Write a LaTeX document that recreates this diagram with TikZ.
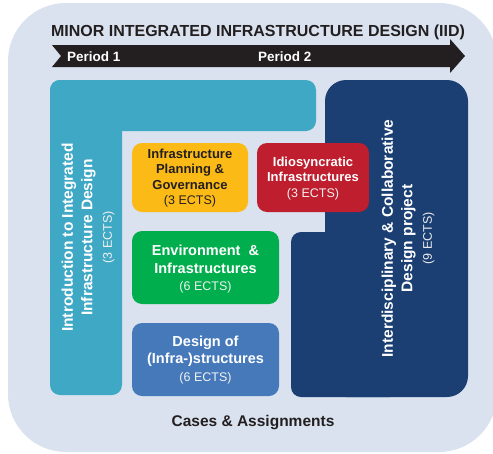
\documentclass[tikz,border=0pt]{standalone}
\usepackage{fontspec}
\setmainfont{Liberation Sans}
\usepackage{tikz}

\definecolor{backblue}{HTML}{D9E2EE}
\definecolor{introteal}{HTML}{3FA9C5}
\definecolor{projblue}{HTML}{1B3F73}
\definecolor{plangold}{HTML}{FBBA16}
\definecolor{idiored}{HTML}{BE1E2D}
\definecolor{envgreen}{HTML}{00AE4D}
\definecolor{designblue}{HTML}{4579BA}
\definecolor{inkdark}{HTML}{231F20}

\newcommand{\ectsline}[2][]{{\mdseries\fontsize{12.5}{15}\selectfont\color{#1}(#2 ECTS)}}

\tikzset{
	small course/.style={align=center, text=white, font=\bfseries\fontsize{13}{15.5}\selectfont},
	big course/.style={align=center, text=white, font=\bfseries\fontsize{14.5}{17.5}\selectfont},
	long course/.style={align=center, text=white, rotate=90, font=\bfseries\fontsize{15.5}{19.5}\selectfont},
}

\begin{document}
\begin{tikzpicture}[x=1pt, y=-1pt]
	\useasboundingbox (0,0) rectangle (493,453);
	\fill[backblue] (8,3) [rounded corners=58pt] rectangle (497,452);

	% title and the time line
	\node[anchor=base, text=inkdark, font=\bfseries\fontsize{16}{19}\selectfont] (title) at (258,36) {MINOR INTEGRATED INFRASTRUCTURE DESIGN (IID)};
	\fill[inkdark] (52,45) -- (450,45) -- (450,39) -- (465,56) -- (450,73) -- (450,67) -- (52,67) -- (61,56) -- cycle;
	\foreach \px/\ptext in {67/1, 258/2}
		\node[anchor=base west, inner sep=0pt, text=white, font=\bfseries\fontsize{13.5}{16}\selectfont] (period\ptext) at (\px,61.5) {Period \ptext};

	% L shaped intro course
	\fill[introteal, rounded corners=10pt] (50,80) rectangle (122,395);
	\fill[introteal, rounded corners=10pt] (50,80) rectangle (316,131);

	% design project, stepped shape
	\fill[projblue, rounded corners=21pt] (325,80) rectangle (468,397);
	\fill[projblue, rounded corners=10pt] (291,232) rectangle (400,397);

	% the smaller courses
	\fill[plangold, rounded corners=10pt] (132,143) rectangle (248,212);
	\fill[idiored, rounded corners=10pt] (257,143) rectangle (369,212);
	\fill[envgreen, rounded corners=10pt] (132,231) rectangle (279,304);
	\fill[designblue, rounded corners=10pt] (132,323) rectangle (279,396);

	\node[small course, text=inkdark] (planning) at (190,178) {Infrastructure\\Planning \&\\Governance\\\ectsline[inkdark]{3}};
	\node[small course] (idiosyncratic) at (313,178.5) {Idiosyncratic\\Infrastructures\\\ectsline[white!90!gray]{3}};
	\node[big course] (environment) at (205.5,269.5) {Environment~~\&\\Infrastructures\\\ectsline[white!90!gray]{6}};
	\node[big course] (design) at (205.5,360) {Design of\\(Infra-)structures\\\ectsline[white!90!gray]{6}};

	\node[long course] (intro) at (88,237.5) {Introduction to Integrated\\Infrastructure Design\\\ectsline[white!90!gray]{3}};
	\node[long course] (project) at (408,238.5) {Interdisciplinary \& Collaborative\\Design project\\\ectsline[white!85!gray]{9}};

	\node[text=inkdark, font=\bfseries\fontsize{15.5}{18}\selectfont] (cases) at (253,423) {Cases \& Assignments};
\end{tikzpicture}
\end{document}
